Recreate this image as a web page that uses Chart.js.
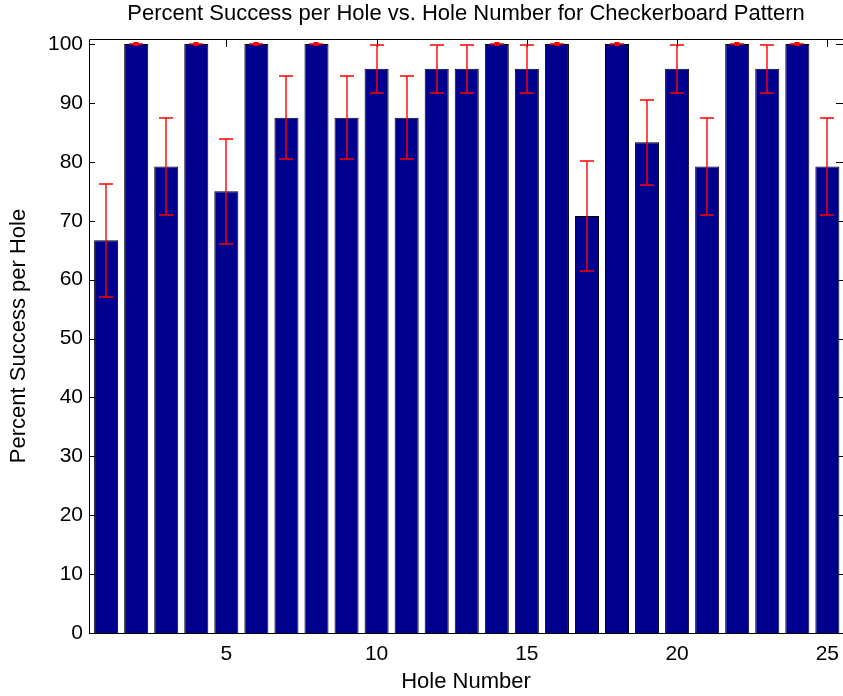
<!DOCTYPE html>
<html>
<head>
<meta charset="utf-8">
<script src="https://cdn.jsdelivr.net/npm/chart.js@4.4.1/dist/chart.umd.min.js"></script>
<style>
  html, body { margin: 0; padding: 0; background: #fff; }
  #wrap { width: 843px; height: 696px; position: relative; }
</style>
</head>
<body>
<div id="wrap"><canvas id="chart"></canvas></div>
<script>
const holes = [1, 2, 3, 4, 5, 6, 7, 8, 9, 10, 11, 12, 13, 14, 15, 16, 17, 18, 19, 20, 21, 22, 23, 24, 25];
const success = [66.7, 100, 79.2, 100, 75, 100, 87.5, 100, 87.5, 95.8, 87.5, 95.8, 95.8, 100, 95.8, 100, 70.8, 100, 83.3, 95.8, 79.2, 100, 95.8, 100, 79.2];
const errors = [9.6, 0, 8.2, 0, 8.9, 0, 7, 0, 7, 4.1, 7, 4.1, 4.1, 0, 4.1, 0, 9.3, 0, 7.2, 4.1, 8.2, 0, 4.1, 0, 8.2];
const xTicks = [5, 10, 15, 20, 25];
const yTicks = [0, 10, 20, 30, 40, 50, 60, 70, 80, 90, 100];

const family = "'Liberation Sans', Arial, Helvetica, sans-serif";

// axes box with inward ticks, matlab style
const axesBox = {
  id: "axesBox",
  beforeDatasetsDraw(chart) {
    const { ctx, chartArea: a, scales: { x, y } } = chart;
    ctx.save();
    ctx.strokeStyle = "#000";
    ctx.lineWidth = 1;
    ctx.beginPath();
    yTicks.forEach((v) => {
      const py = Math.round(y.getPixelForValue(v)) + 0.5;
      ctx.moveTo(a.left, py);
      ctx.lineTo(a.left + 6, py);
      ctx.moveTo(a.right, py);
      ctx.lineTo(a.right - 7, py);
    });
    xTicks.forEach((v) => {
      const px = Math.round(x.getPixelForValue(v)) + 0.5;
      ctx.moveTo(px, a.top);
      ctx.lineTo(px, a.top + 8);
      ctx.moveTo(px, a.bottom);
      ctx.lineTo(px, a.bottom - 8);
    });
    ctx.stroke();
    ctx.restore();
  },
  afterDraw(chart) {
    const { ctx, chartArea: a } = chart;
    ctx.save();
    ctx.strokeStyle = "#000";
    ctx.lineWidth = 1;
    ctx.beginPath();
    ctx.moveTo(a.right, Math.round(a.top) + 0.5);
    ctx.lineTo(Math.round(a.left) + 0.5, Math.round(a.top) + 0.5);
    ctx.lineTo(Math.round(a.left) + 0.5, Math.round(a.bottom) + 0.5);
    ctx.lineTo(a.right, Math.round(a.bottom) + 0.5);
    ctx.stroke();
    ctx.restore();
  },
};

const errorBars = {
  id: "errorBars",
  afterDatasetsDraw(chart) {
    const { ctx, scales: { x, y } } = chart;
    ctx.save();
    ctx.strokeStyle = "rgb(255, 0, 0)";
    ctx.fillStyle = "rgb(255, 0, 0)";
    ctx.lineWidth = 1.4;
    holes.forEach((h, i) => {
      const px = Math.round(x.getPixelForValue(h));
      const lo = Math.round(y.getPixelForValue(success[i] - errors[i]));
      const hi = Math.round(y.getPixelForValue(success[i] + errors[i]));
      ctx.beginPath();
      ctx.moveTo(px, lo);
      ctx.lineTo(px, hi);
      ctx.moveTo(px - 7, lo);
      ctx.lineTo(px + 7, lo);
      ctx.moveTo(px - 7, hi);
      ctx.lineTo(px + 7, hi);
      ctx.stroke();
      if (errors[i] === 0) {
        ctx.fillRect(px - 2.5, hi - 2, 5, 4);
      }
    });
    ctx.restore();
  },
};

new Chart(document.getElementById("chart"), {
  type: "bar",
  data: {
    datasets: [
      {
        label: "Percent Success per Hole",
        data: holes.map((h, i) => ({ x: h, y: success[i] })),
        backgroundColor: "#00008f",
        borderColor: "#000000",
        borderWidth: 1,
        barPercentage: 0.8,
        categoryPercentage: 1,
      },
    ],
  },
  options: {
    responsive: true,
    maintainAspectRatio: false,
    animation: false,
    layout: { padding: 0 },
    plugins: {
      legend: { display: false },
      tooltip: { enabled: false },
      title: {
        display: true,
        fullSize: false,
        text: "Percent Success per Hole vs. Hole Number for Checkerboard Pattern",
        color: "#000",
        font: { family: family, size: 22, weight: "normal" },
        padding: { top: 1, bottom: 11.6 },
      },
    },
    scales: {
      x: {
        type: "linear",
        min: 0.43,
        max: 25.52,
        offset: false,
        grid: { display: false, drawTicks: false },
        border: { display: false },
        afterBuildTicks: (scale) => {
          scale.ticks = xTicks.map((v) => ({ value: v }));
        },
        afterFit: (scale) => {
          scale.height = 63;
          scale.paddingLeft = 0;
          scale.paddingRight = 0;
        },
        ticks: {
          color: "#000",
          padding: 9,
          maxRotation: 0,
          autoSkip: false,
          font: { family: family, size: 21 },
        },
        title: {
          display: true,
          text: "Hole Number",
          color: "#000",
          padding: { top: 1, bottom: 1 },
          font: { family: family, size: 22 },
        },
      },
      y: {
        min: 0,
        max: 100.85,
        grid: { display: false, drawTicks: false },
        border: { display: false },
        afterBuildTicks: (scale) => {
          scale.ticks = yTicks.map((v) => ({ value: v }));
        },
        afterFit: (scale) => {
          scale.width = 89;
          scale.paddingTop = 0;
          scale.paddingBottom = 0;
        },
        ticks: {
          color: "#000",
          padding: 6,
          autoSkip: false,
          font: { family: family, size: 21 },
        },
        title: {
          display: true,
          text: "Percent Success per Hole",
          color: "#000",
          padding: { top: 6, bottom: 0 },
          font: { family: family, size: 22 },
        },
      },
    },
  },
  plugins: [axesBox, errorBars],
});
</script>
</body>
</html>
